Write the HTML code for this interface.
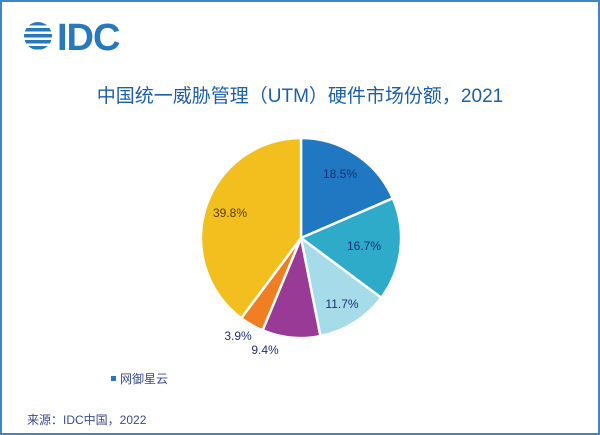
<!DOCTYPE html>
<html><head><meta charset="utf-8"><style>
html,body{margin:0;padding:0;background:#fff}
.w{position:relative;width:600px;height:435px;box-sizing:border-box;border:2px solid #3f86c4;overflow:hidden;font-family:"Liberation Sans","Noto Sans CJK SC",sans-serif}
</style></head><body><div class="w">
<svg width="600" height="435" style="position:absolute;left:-2px;top:-2px" font-family="Liberation Sans, Noto Sans CJK SC, sans-serif">
<g fill="#2878be">
<clipPath id="c"><circle cx="38" cy="36" r="14"/></clipPath>
<g clip-path="url(#c)">
<rect x="20" y="22" width="36" height="3.5"/><rect x="20" y="28" width="36" height="3.5"/><rect x="20" y="34" width="36" height="3.5"/><rect x="20" y="40" width="36" height="3.5"/><rect x="20" y="46" width="36" height="3.5"/>
</g>
<text x="57" y="50" font-size="38" font-weight="bold" letter-spacing="-1">IDC</text>
</g>
<text x="300" y="102" text-anchor="middle" font-size="19" fill="#1d5fa8">中国统一威胁管理（UTM）硬件市场份额，2021</text>
<g stroke="#fff" stroke-width="2.5" stroke-linejoin="round">
<path d="M301,238 L301,138 A100,100 0 0 1 392.8,198.3 Z" fill="#1f78c1"/>
<path d="M301,238 L392.8,198.3 A100,100 0 0 1 381.2,297.8 Z" fill="#2eabc9"/>
<path d="M301,238 L381.2,297.8 A100,100 0 0 1 320.4,336.1 Z" fill="#a6dcea"/>
<path d="M301,238 L320.4,336.1 A100,100 0 0 1 262.6,330.3 Z" fill="#983a96"/>
<path d="M301,238 L262.6,330.3 A100,100 0 0 1 241.2,318.2 Z" fill="#f07f23"/>
<path d="M301,238 L241.2,318.2 A100,100 0 0 1 301,138 Z" fill="#f3bf1e"/>
</g>
<g font-size="12" fill="#1e2f7a" text-anchor="middle">
<text x="340" y="178">18.5%</text>
<text x="364" y="250">16.7%</text>
<text x="342" y="308">11.7%</text>
<text x="265" y="354">9.4%</text>
<text x="238" y="340">3.9%</text>
<text x="230" y="217" fill="#5a3f10">39.8%</text>
</g>
<rect x="111" y="376" width="5" height="5" fill="#2878be"/>
<text x="120" y="383" font-size="12" fill="#3b4a8f">网御星云</text>
<text x="27" y="424" font-size="12" fill="#3b4a8f">来源：IDC中国，2022</text>
</svg>
</div></body></html>
